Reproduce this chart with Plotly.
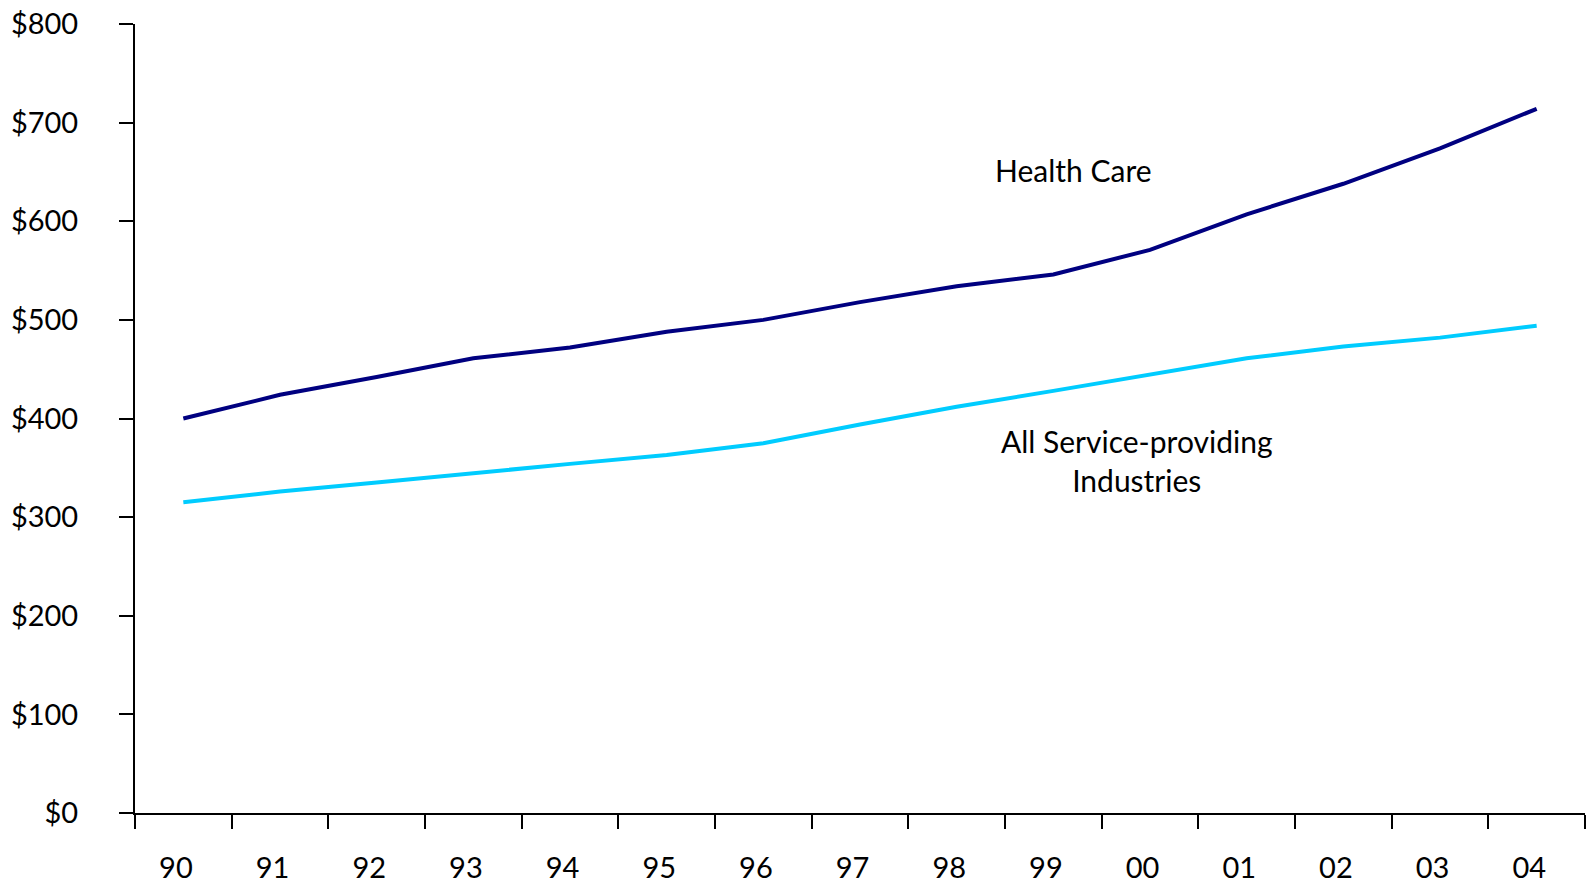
import plotly.graph_objects as go

years = ["90", "91", "92", "93", "94", "95", "96", "97", "98", "99", "00", "01", "02", "03", "04"]
health_care = [400, 424, 442, 461, 472, 488, 500, 518, 534, 546, 571, 607, 638, 674, 714]
all_services = [315, 326, 335, 345, 354, 363, 375, 394, 412, 428, 445, 461, 473, 482, 494]
y_ticks = [0, 100, 200, 300, 400, 500, 600, 700, 800]
y_tick_labels = ["$" + str(v) for v in y_ticks]
x_tick_labels = [y + "\u00a0\u00a0" for y in years]

FONT = "Lato"

fig = go.Figure()
fig.add_trace(go.Scatter(x=years, y=health_care, mode="lines", name="Health Care",
                         line=dict(color="#000080", width=4)))
fig.add_trace(go.Scatter(x=years, y=all_services, mode="lines", name="All Service-providing Industries",
                         line=dict(color="#00CCFF", width=4)))

fig.add_annotation(x=9.21, y=652, text="Health Care", showarrow=False,
                   font=dict(family=FONT, size=30, color="black"), xanchor="center", yanchor="middle")
fig.add_annotation(x=9.87, y=357, text="All Service-providing<br>Industries", showarrow=False,
                   font=dict(family=FONT, size=30, color="black"), xanchor="center", yanchor="middle",
                   align="center")

fig.update_layout(
    width=1592, height=883,
    margin=dict(l=135, r=7, t=24, b=70, autoexpand=False),
    paper_bgcolor="white", plot_bgcolor="white",
    showlegend=False,
    font=dict(family=FONT, size=29, color="black"),
)
fig.update_xaxes(type="category", range=[-0.5, 14.5], tickson="boundaries",
                 tickmode="array", tickvals=years, ticktext=x_tick_labels,
                 ticks="outside", ticklen=14, tickwidth=2, tickcolor="black",
                 showline=True, linecolor="black", linewidth=2, showgrid=False,
                 automargin=False, ticklabeloverflow="allow",
                 ticklabelstandoff=28, tickfont=dict(family=FONT, size=29))
fig.update_yaxes(range=[0, 800], tickmode="array", tickvals=y_ticks, ticktext=y_tick_labels,
                 ticks="outside", ticklen=14, tickwidth=2, tickcolor="black",
                 showline=True, linecolor="black", linewidth=2, showgrid=False, zeroline=False,
                 automargin=False, ticklabeloverflow="allow",
                 ticklabelstandoff=35, tickfont=dict(family=FONT, size=29))

# remove the browser's default 8px body margin so the figure sits at the page origin
fig.write_html("out.html", config={"displayModeBar": False},
               post_script="document.body.style.margin='0';")
